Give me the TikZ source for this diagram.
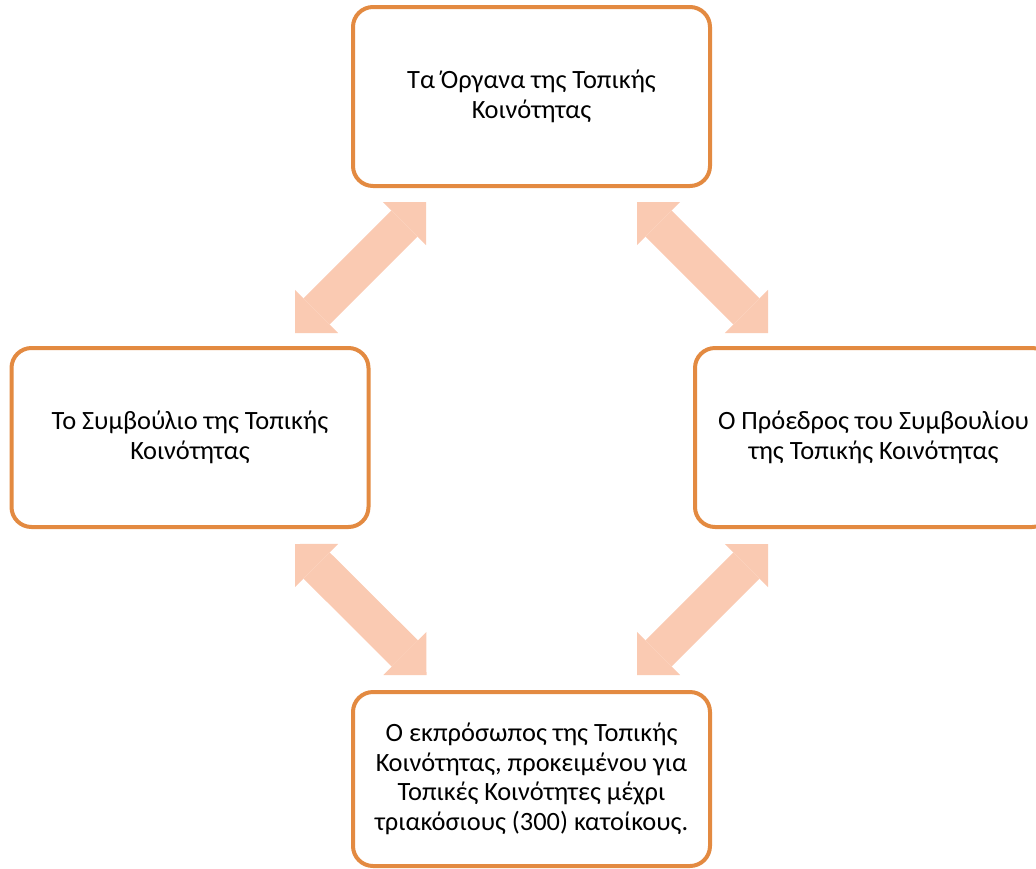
\documentclass[tikz,border=0pt]{standalone}
\usepackage{fontspec}
\setmainfont{Carlito}
\usetikzlibrary{arrows.meta}
\definecolor{boxorange}{HTML}{E38A41}
\definecolor{arrowfill}{HTML}{FACAB2}
\begin{document}
\begin{tikzpicture}[x=1pt,y=-1pt,
  box/.style={draw=boxorange, line width=4pt, rounded corners=20pt, fill=white,
    minimum width=357pt, minimum height=179pt, align=center, inner sep=0pt,
    font=\fontsize{26.4}{29.5}\selectfont},
  bigtip/.tip={Triangle[width=61pt,length=30.5pt,line width=0pt,fill=arrowfill]},
  bigarrow/.style={draw=arrowfill, line width=37pt, bigtip-bigtip}]
\useasboundingbox (0,0) rectangle (1036,868);
\clip (0,0) rectangle (1036,868);
\node[box] (top) at (531.5,96.5) {Τα Όργανα της Τοπικής\\Κοινότητας};
\node[box] (left) at (190,437.5) {Το Συμβούλιο της Τοπικής\\Κοινότητας};
\node[box] (right) at (873.5,437.5) {Ο Πρόεδρος του Συμβουλίου\\της Τοπικής Κοινότητας};
\node[box, minimum height=174pt] (bottom) at (531.5,779) {Ο εκπρόσωπος της Τοπικής\\Κοινότητας, προκειμένου για\\Τοπικές Κοινότητες μέχρι\\τριακόσιους (300) κατοίκους.};
\coordinate (tlA) at (295,333);
\coordinate (tlB) at (426,202);
\coordinate (trA) at (637,202);
\coordinate (trB) at (768,333);
\coordinate (blA) at (295,544);
\coordinate (blB) at (426.5,675);
\coordinate (brA) at (637,675);
\coordinate (brB) at (768,544);
\draw[bigarrow] (tlA) -- (tlB);
\draw[bigarrow] (trA) -- (trB);
\draw[bigarrow] (blA) -- (blB);
\draw[bigarrow] (brA) -- (brB);
\end{tikzpicture}
\end{document}
